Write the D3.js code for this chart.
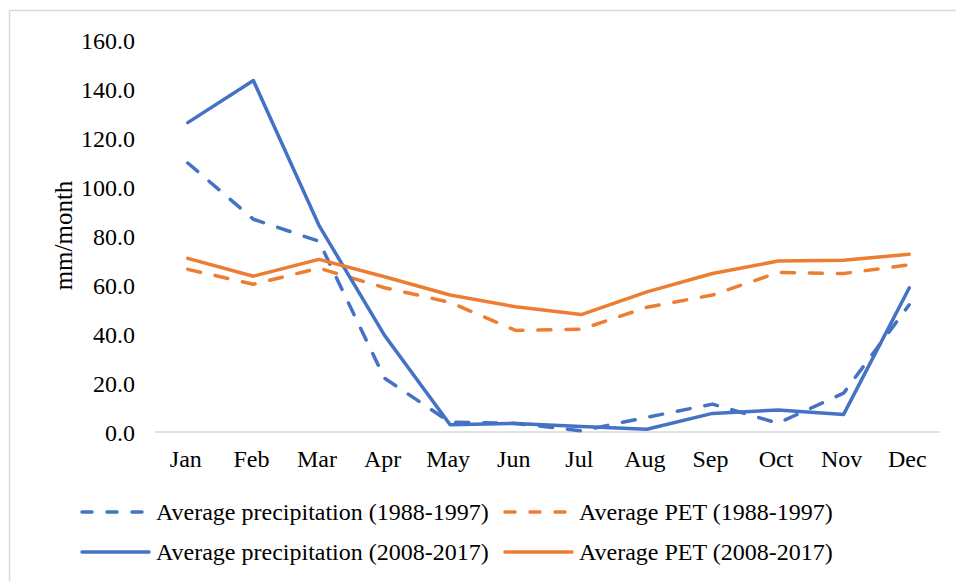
<!DOCTYPE html>
<html>
<head>
<meta charset="utf-8">
<script src="https://cdn.jsdelivr.net/npm/d3@7"></script>
<style>
  html, body { margin: 0; padding: 0; background: #fff; }
  svg text { font-family: "Liberation Serif", "Times New Roman", serif; fill: #000; }
</style>
</head>
<body>
<svg id="chart"></svg>
<script>
const width = 956, height = 581;
const margin = { top: 40.7, right: 16, bottom: 149, left: 153 };

const months = ["Jan", "Feb", "Mar", "Apr", "May", "Jun", "Jul", "Aug", "Sep", "Oct", "Nov", "Dec"];
const yTicks = [0, 20, 40, 60, 80, 100, 120, 140, 160];

// values (mm/month)
const precip8897 = [110, 87, 78, 22, 4, 3.5, 0.5, 6, 11.4, 3.6, 15.9, 52];
const pet8897 = [66.5, 60.4, 67, 59, 53, 41.5, 42, 51, 56, 65.2, 64.8, 68.4];
const precip0817 = [126.5, 143.7, 84.5, 39.5, 3, 3.5, 2.2, 1.1, 7.6, 9, 7.2, 58.9];
const pet0817 = [71, 63.7, 70.6, 63.5, 56, 51.2, 48, 57.3, 64.8, 69.9, 70.2, 72.7];

const seriesNames = [
    "Average precipitation (1988-1997)",
    "Average PET (1988-1997)",
    "Average precipitation (2008-2017)",
    "Average PET (2008-2017)"
];

const blue = "#4472C4", orange = "#ED7D31";

const series = [
    { name: seriesNames[0], values: precip8897, color: blue, dashed: true },
    { name: seriesNames[1], values: pet8897, color: orange, dashed: true },
    { name: seriesNames[2], values: precip0817, color: blue, dashed: false },
    { name: seriesNames[3], values: pet0817, color: orange, dashed: false }
];

const svg = d3.select("#chart")
    .attr("width", width)
    .attr("height", height);

// chart area frame (clipped on right/bottom like the source)
svg.append("rect")
    .attr("x", 9.5).attr("y", 10.5)
    .attr("width", 1000).attr("height", 1000)
    .attr("fill", "none")
    .attr("stroke", "#d9d9d9")
    .attr("stroke-width", 1.5);

const x = d3.scaleBand()
    .domain(months)
    .range([margin.left, width - margin.right]);

const y = d3.scaleLinear()
    .domain([0, 160])
    .range([height - margin.bottom, margin.top]);

// y axis labels
const yAxis = svg.append("g")
    .attr("transform", `translate(${margin.left - 18},0)`)
    .call(d3.axisLeft(y).tickValues(yTicks).tickFormat(d3.format(".1f")).tickSize(0).tickPadding(0));
yAxis.select(".domain").remove();
yAxis.selectAll("text")
    .style("font-size", "24px")
    .attr("dy", "0.34em");

// baseline
svg.append("line")
    .attr("x1", margin.left + 2).attr("x2", width - margin.right)
    .attr("y1", y(0)).attr("y2", y(0))
    .attr("stroke", "#d9d9d9")
    .attr("stroke-width", 1.5);

// x axis labels
const xAxis = svg.append("g")
    .attr("transform", `translate(0,${y(0)})`)
    .call(d3.axisBottom(x).tickSize(0).tickPadding(0));
xAxis.select(".domain").remove();
xAxis.selectAll("text")
    .style("font-size", "24px")
    .attr("dy", "1.45em");

// y axis title
svg.append("text")
    .attr("transform", `translate(72,${235.5}) rotate(-90)`)
    .attr("text-anchor", "middle")
    .style("font-size", "25px")
    .text("mm/month");

const line = d3.line()
    .x((d, i) => x(months[i]) + x.bandwidth() / 2 + 2)
    .y(d => y(d));

svg.selectAll("path.series")
    .data(series)
    .enter()
    .append("path")
    .attr("class", "series")
    .attr("d", d => line(d.values))
    .attr("fill", "none")
    .attr("stroke", d => d.color)
    .attr("stroke-width", 3.5)
    .attr("stroke-linejoin", "round")
    .attr("stroke-linecap", "round")
    .attr("stroke-dasharray", d => d.dashed ? "13,15" : null);

// legend: 2 x 2
const legendPos = [
    { x: 80, y: 512 }, { x: 503, y: 512 },
    { x: 80, y: 552 }, { x: 503, y: 552 }
];

const legend = svg.selectAll("g.legend")
    .data(series)
    .enter()
    .append("g")
    .attr("class", "legend")
    .attr("transform", (d, i) => `translate(${legendPos[i].x},${legendPos[i].y})`);

legend.append("line")
    .attr("x1", 2).attr("x2", 69)
    .attr("y1", 0).attr("y2", 0)
    .attr("stroke", d => d.color)
    .attr("stroke-width", 3.5)
    .attr("stroke-linecap", "round")
    .attr("stroke-dasharray", d => d.dashed ? "10,15" : null);

legend.append("text")
    .attr("x", 76)
    .attr("y", 0)
    .attr("dy", "0.34em")
    .style("font-size", "24px")
    .text(d => d.name);
</script>
</body>
</html>
